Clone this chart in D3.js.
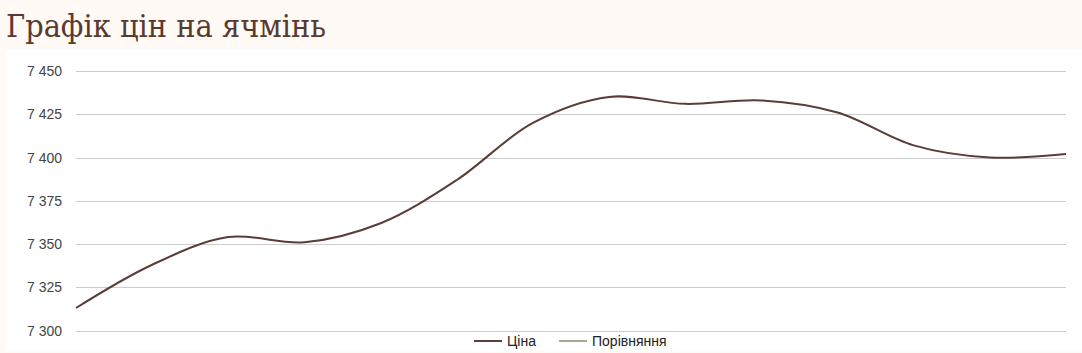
<!DOCTYPE html>
<html>
<head>
<meta charset="utf-8">
<script src="https://cdn.jsdelivr.net/npm/d3@7"></script>
<style>
  html, body { margin: 0; padding: 0; background: #fffaf6; }
  svg { display: block; }
</style>
</head>
<body>
<svg id="chart" width="1082" height="353"></svg>
<script>
const title = 'Графік цін на ячмінь';
const points = d3.range(14);
const prices = [7313, 7338, 7354, 7351, 7362, 7387, 7420, 7435, 7431, 7433, 7426, 7407, 7400, 7402];
const comparison = [];
const yTicks = [7300, 7325, 7350, 7375, 7400, 7425, 7450];
const seriesNames = ['Ціна', 'Порівняння'];
const seriesColors = ['#5b3c37', '#a8a892'];

function drawChart() {
  let svg = d3.select('#chart');

  svg.append('text')
    .attr('x', 6)
    .attr('y', 37)
    .attr('font-family', 'DejaVu Serif')
    .attr('font-size', 31)
    .attr('fill', '#5a3a30')
    .attr('textLength', 320)
    .attr('lengthAdjust', 'spacingAndGlyphs')
    .text(title);

  svg.append('rect')
    .attr('x', 6).attr('y', 50)
    .attr('width', 1076).attr('height', 301)
    .attr('fill', '#ffffff');

  let x = d3.scaleLinear().domain([0, points.length - 1]).range([76, 1066]);
  let y = d3.scaleLinear().domain([7300, 7450]).range([330.5, 71]);

  let grid = svg.append('g');
  grid.selectAll('line').data(yTicks).join('line')
    .attr('x1', 76).attr('x2', 1066)
    .attr('y1', d => Math.round(y(d)) + 0.5)
    .attr('y2', d => Math.round(y(d)) + 0.5)
    .attr('stroke', '#cccccc')
    .attr('stroke-width', 1);

  grid.selectAll('text').data(yTicks).join('text')
    .attr('x', 62)
    .attr('y', d => y(d) + 5)
    .attr('text-anchor', 'end')
    .attr('font-family', 'Liberation Sans, Arial')
    .attr('font-size', 14)
    .attr('fill', '#444444')
    .text(d => d3.format(',')(d).replace(',', ' '));

  let line = d3.line()
    .x((d, i) => x(i))
    .y(d => y(d))
    .curve(d3.curveCatmullRom.alpha(0.5));

  svg.append('path')
    .datum(prices)
    .attr('d', line)
    .attr('fill', 'none')
    .attr('stroke', seriesColors[0])
    .attr('stroke-width', 2);

  if (comparison.length) {
    svg.append('path')
      .datum(comparison)
      .attr('d', line)
      .attr('fill', 'none')
      .attr('stroke', seriesColors[1])
      .attr('stroke-width', 2);
  }

  let legendX = [474, 559];
  let legend = svg.append('g');
  seriesNames.forEach((name, i) => {
    legend.append('line')
      .attr('x1', legendX[i]).attr('x2', legendX[i] + 28)
      .attr('y1', 341).attr('y2', 341)
      .attr('stroke', seriesColors[i])
      .attr('stroke-width', 2);
    legend.append('text')
      .attr('x', legendX[i] + 33)
      .attr('y', 346)
      .attr('font-family', 'Liberation Sans, Arial')
      .attr('font-size', 14)
      .attr('fill', '#222222')
      .text(name);
  });
}

window.onload = drawChart;
</script>
</body>
</html>
